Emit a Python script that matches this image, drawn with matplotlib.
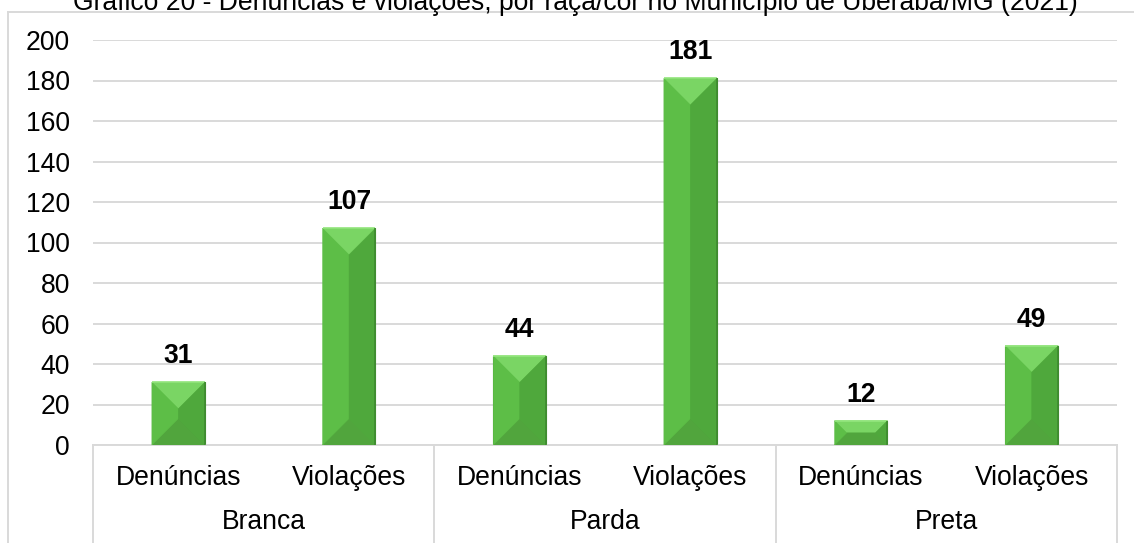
import matplotlib
matplotlib.use("Agg")
import matplotlib.pyplot as plt
from matplotlib.patches import Polygon
from matplotlib.lines import Line2D
import matplotlib.transforms as mtransforms

plt.rcParams['font.family'] = ['Liberation Sans', 'DejaVu Sans']

title = "Gráfico 20 - Denúncias e violações, por raça/cor no Município de Uberaba/MG (2021)"
groups = ["Branca", "Parda", "Preta"]
subcats = ["Denúncias", "Violações"]
values = [31, 107, 44, 181, 12, 49]
yticks = list(range(0, 201, 20))

W, H, DPI = 1134, 543, 100
fig = plt.figure(figsize=(W / DPI, H / DPI), dpi=DPI)
ax = fig.add_axes([93 / W, 98 / H, (1117 - 93) / W, (445 - 40) / H])

n = len(values)
xs = list(range(n))
bar_w = 0.31
GRID = '#D9D9D9'
FS = 19.1

ax.set_xlim(-0.5, n - 0.5)
ax.set_ylim(0, 200)
ax.set_yticks(yticks)
ax.yaxis.grid(True, color=GRID, linewidth=1.4)
ax.set_axisbelow(True)
for s in ['top', 'right', 'left']:
    ax.spines[s].set_visible(False)
ax.spines['bottom'].set_color(GRID)
ax.spines['bottom'].set_linewidth(1.4)
ax.tick_params(axis='y', length=0, pad=16.5, labelsize=FS)
ax.set_xticks([])

bars = ax.bar(xs, values, width=bar_w, color='#5BBB45', edgecolor='#44902F', linewidth=0.8, zorder=2)

# bevel faces
fig.canvas.draw()
bbox = ax.get_window_extent()
px_per_x = bbox.width / (n)
px_per_y = bbox.height / 200.0
top_c, left_c, right_c, bot_c = '#7AD564', '#5DBE47', '#4FA83C', '#51A53D'
for rect in bars:
    x0 = rect.get_x(); w = rect.get_width(); h = rect.get_height()
    x1 = x0 + w; y0 = 0; y1 = h
    d_px = min(w * px_per_x / 2, h * px_per_y / 2)
    dx = d_px / px_per_x; dy = d_px / px_per_y
    faces = [
        ([(x0, y1), (x1, y1), (x1 - dx, y1 - dy), (x0 + dx, y1 - dy)], top_c),
        ([(x0, y0), (x1, y0), (x1 - dx, y0 + dy), (x0 + dx, y0 + dy)], bot_c),
        ([(x0, y0), (x0 + dx, y0 + dy), (x0 + dx, y1 - dy), (x0, y1)], left_c),
        ([(x1, y0), (x1 - dx, y0 + dy), (x1 - dx, y1 - dy), (x1, y1)], right_c),
    ]
    for pts, c in faces:
        ax.add_patch(Polygon(pts, closed=True, facecolor=c, edgecolor=c, linewidth=0.3, zorder=3))
    ax.plot([x0, x1], [y1, y1], color='#94E67E', lw=1.2, zorder=4, solid_capstyle='butt')
    ax.plot([x1, x1], [y0, y1], color='#3E8A2F', lw=1.2, zorder=4, solid_capstyle='butt')
    ax.annotate(str(int(h)), (x0 + w / 2, h), xytext=(0, 9.5),
                textcoords='offset points', ha='center', va='bottom',
                fontsize=FS, fontweight='bold', color='black', zorder=5)

# multi-level category axis
trans = mtransforms.blended_transform_factory(ax.transData, ax.transAxes)
ah = bbox.height
for i, x in enumerate(xs):
    ax.text(x, -33 / ah, subcats[i % 2], transform=trans, ha='center', va='center', fontsize=FS)
for g, name in enumerate(groups):
    ax.text(2 * g + 0.5, -77 / ah, name, transform=trans, ha='center', va='center', fontsize=FS)
for b in [-0.5, 1.5, 3.5, 5.5]:
    ax.plot([b, b], [0, -100 / ah], transform=trans, color=GRID, lw=1.4, clip_on=False)

# chart border (partially cropped)
fig.add_artist(Line2D([8 / W, 8 / W], [0, 1 - 12 / H], color=GRID, lw=1.4, transform=fig.transFigure))
fig.add_artist(Line2D([8 / W, 1], [1 - 12 / H, 1 - 12 / H], color=GRID, lw=1.4, transform=fig.transFigure))

fig.text(575 / W, 1 - 9.5 / H, title, ha='center', va='baseline', fontsize=FS, color='black')

fig.savefig('out.png', dpi=DPI)
